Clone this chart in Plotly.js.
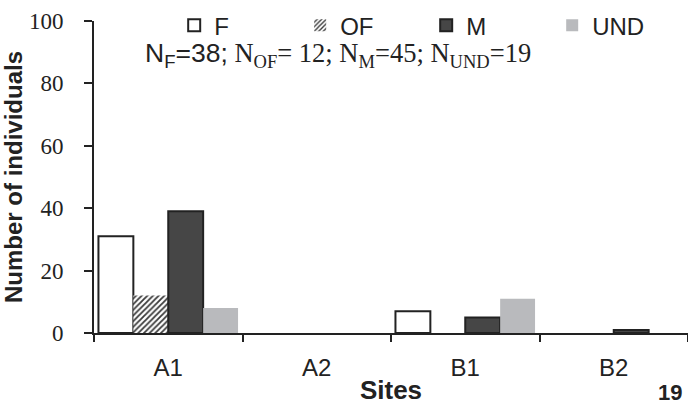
<!DOCTYPE html>
<html>
<head>
<meta charset="utf-8">
<script src="https://cdn.plot.ly/plotly-3.0.1.min.js"></script>
<style>
  html, body { margin: 0; padding: 0; background: #fff; }
  #chart { width: 688px; height: 405px; }
</style>
</head>
<body>
<div id="chart"></div>
<script>
const sites = ["A1", "A2", "B1", "B2"];
const femaleCounts = [31, 0, 7, 0];
const otherFemaleCounts = [12, 0, 0, 0];
const maleCounts = [39, 0, 5, 1];
const undeterminedCounts = [8, 0, 11, 0];
const seriesNames = ["F", "OF", "M", "UND"];
const totalsText =
  '<span style="font-family:\'Liberation Sans\'">N<sub>F</sub>=38;</span> ' +
  "N<sub>OF</sub>= 12; N<sub>M</sub>=45; N<sub>UND</sub>=19";

const ink = "#222222";

// empty bars get no outline, so nothing is drawn on the axis
const outlineFor = (values) => values.map((v) => (v > 0 ? 2 : 0));

const femaleTrace = {
  x: sites,
  y: femaleCounts,
  name: seriesNames[0],
  type: "bar",
  marker: { color: "#ffffff", line: { color: ink, width: outlineFor(femaleCounts) } },
};

const otherFemaleTrace = {
  x: sites,
  y: otherFemaleCounts,
  name: seriesNames[1],
  type: "bar",
  marker: {
    color: "#ffffff",
    line: { width: 0 },
    pattern: { shape: "/", fgcolor: "#3a3a3a", bgcolor: "#ffffff", size: 4, solidity: 0.45 },
  },
};

const maleTrace = {
  x: sites,
  y: maleCounts,
  name: seriesNames[2],
  type: "bar",
  marker: { color: "#464646", line: { color: ink, width: outlineFor(maleCounts) } },
};

const undeterminedTrace = {
  x: sites,
  y: undeterminedCounts,
  name: seriesNames[3],
  type: "bar",
  marker: { color: "#b9babd", line: { width: 0 } },
};

const layout = {
  width: 688,
  height: 405,
  margin: { l: 94, r: 0, t: 21, b: 72 },
  paper_bgcolor: "#ffffff",
  plot_bgcolor: "#ffffff",
  barmode: "group",
  bargap: 0.06,
  bargroupgap: 0,
  showlegend: true,
  legend: {
    orientation: "h",
    x: 0.135,
    xanchor: "left",
    y: 0.985,
    yanchor: "middle",
    font: { family: "Liberation Sans, Arial, sans-serif", size: 24, color: ink },
    bgcolor: "rgba(0,0,0,0)",
    entrywidth: 81,
  },
  xaxis: {
    type: "category",
    range: [-0.5, 3.5],
    showline: true,
    linecolor: ink,
    linewidth: 2,
    ticks: "outside",
    tickson: "boundaries",
    ticklen: 7,
    tickwidth: 2,
    tickcolor: ink,
    ticklabelstandoff: 12,
    showgrid: false,
    tickfont: { family: "Liberation Sans, Arial, sans-serif", size: 24, color: ink },
    title: {
      text: "Sites",
      standoff: 3,
      font: { family: "Liberation Sans, Arial, sans-serif", size: 26, color: ink, weight: "bold" },
    },
  },
  yaxis: {
    range: [0, 100],
    tickvals: [0, 20, 40, 60, 80, 100],
    showline: true,
    linecolor: ink,
    linewidth: 2,
    ticks: "outside",
    ticklen: 8,
    tickwidth: 2,
    tickcolor: ink,
    ticklabelstandoff: 16,
    showgrid: false,
    zeroline: false,
    tickfont: { family: "Liberation Serif, Times New Roman, serif", size: 23, color: ink },
    title: {
      text: "Number of individuals",
      standoff: 1,
      font: { family: "Liberation Sans, Arial, sans-serif", size: 24, color: ink, weight: "bold" },
    },
  },
  annotations: [
    {
      text: totalsText,
      xref: "paper",
      yref: "paper",
      x: 0.41,
      y: 0.89,
      xanchor: "center",
      yanchor: "middle",
      showarrow: false,
      font: { family: "Liberation Serif, Times New Roman, serif", size: 26.5, color: ink },
    },
    {
      text: "<b>19</b>",
      xref: "paper",
      yref: "paper",
      x: 0.97,
      y: -0.19,
      xanchor: "center",
      yanchor: "middle",
      showarrow: false,
      font: { family: "Liberation Sans, Arial, sans-serif", size: 22, color: ink },
    },
  ],
};

const config = { staticPlot: true };

Plotly.newPlot(
  "chart",
  [femaleTrace, otherFemaleTrace, maleTrace, undeterminedTrace],
  layout,
  config
);
</script>
</body>
</html>
